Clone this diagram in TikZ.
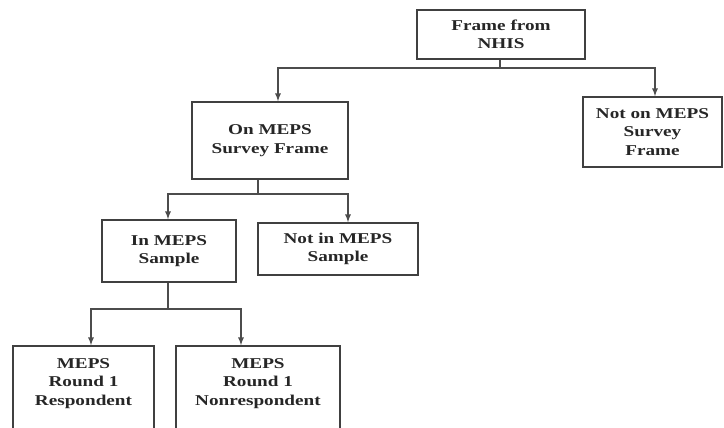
\documentclass[tikz,border=0pt]{standalone}
\usepackage{fontspec}
\setmainfont{Liberation Serif}[FakeStretch=1.28]
\begin{document}
\begin{tikzpicture}
    [x=1pt,y=-1pt,every node/.style={draw=black!75,line width=1.6pt,align=center,
      font=\bfseries\fontsize{15}{18.5}\selectfont,text=black!85},
     link/.style={draw=black!70,line width=1.7pt}]
    \useasboundingbox (0,0) rectangle (724,428);
    \node[minimum width=168pt,minimum height=49pt] (nhis) at (501,34.5) {Frame from\\NHIS};
    \node[minimum width=156pt,minimum height=77pt] (onframe) at (270,140.5) {On MEPS\\Survey Frame};
    \node[minimum width=139pt,minimum height=70pt] (notonframe) at (652.5,132) {Not on MEPS\\Survey\\Frame};
    \node[minimum width=134pt,minimum height=62pt] (insample) at (169,251) {In MEPS\\Sample};
    \node[minimum width=160pt,minimum height=52pt] (notinsample) at (338,249) {Not in MEPS\\Sample};
    \node[minimum width=141pt,minimum height=86pt,text depth=14pt] (resp) at (83.5,389) {MEPS\\Round 1\\Respondent};
    \node[minimum width=164pt,minimum height=86pt,text depth=14pt] (nonresp) at (258,389) {MEPS\\Round 1\\Nonrespondent};
    \draw[link] ([xshift=-1]nhis.south) -- ++(0,8) coordinate (split1);
    \draw[link] ([xshift=-12]onframe.south) -- ++(0,14) coordinate (split2);
    \draw[link] ([xshift=-1]insample.south) -- ++(0,26) coordinate (split3);
    \foreach \from/\to/\dx in {split1/onframe/8,split1/notonframe/2.5,split2/insample/-1,
      split2/notinsample/10,split3/resp/7.5,split3/nonresp/-17}
      \draw[link,-latex] (\from) -| ([xshift=\dx]\to.north);
  \end{tikzpicture}
\end{document}
